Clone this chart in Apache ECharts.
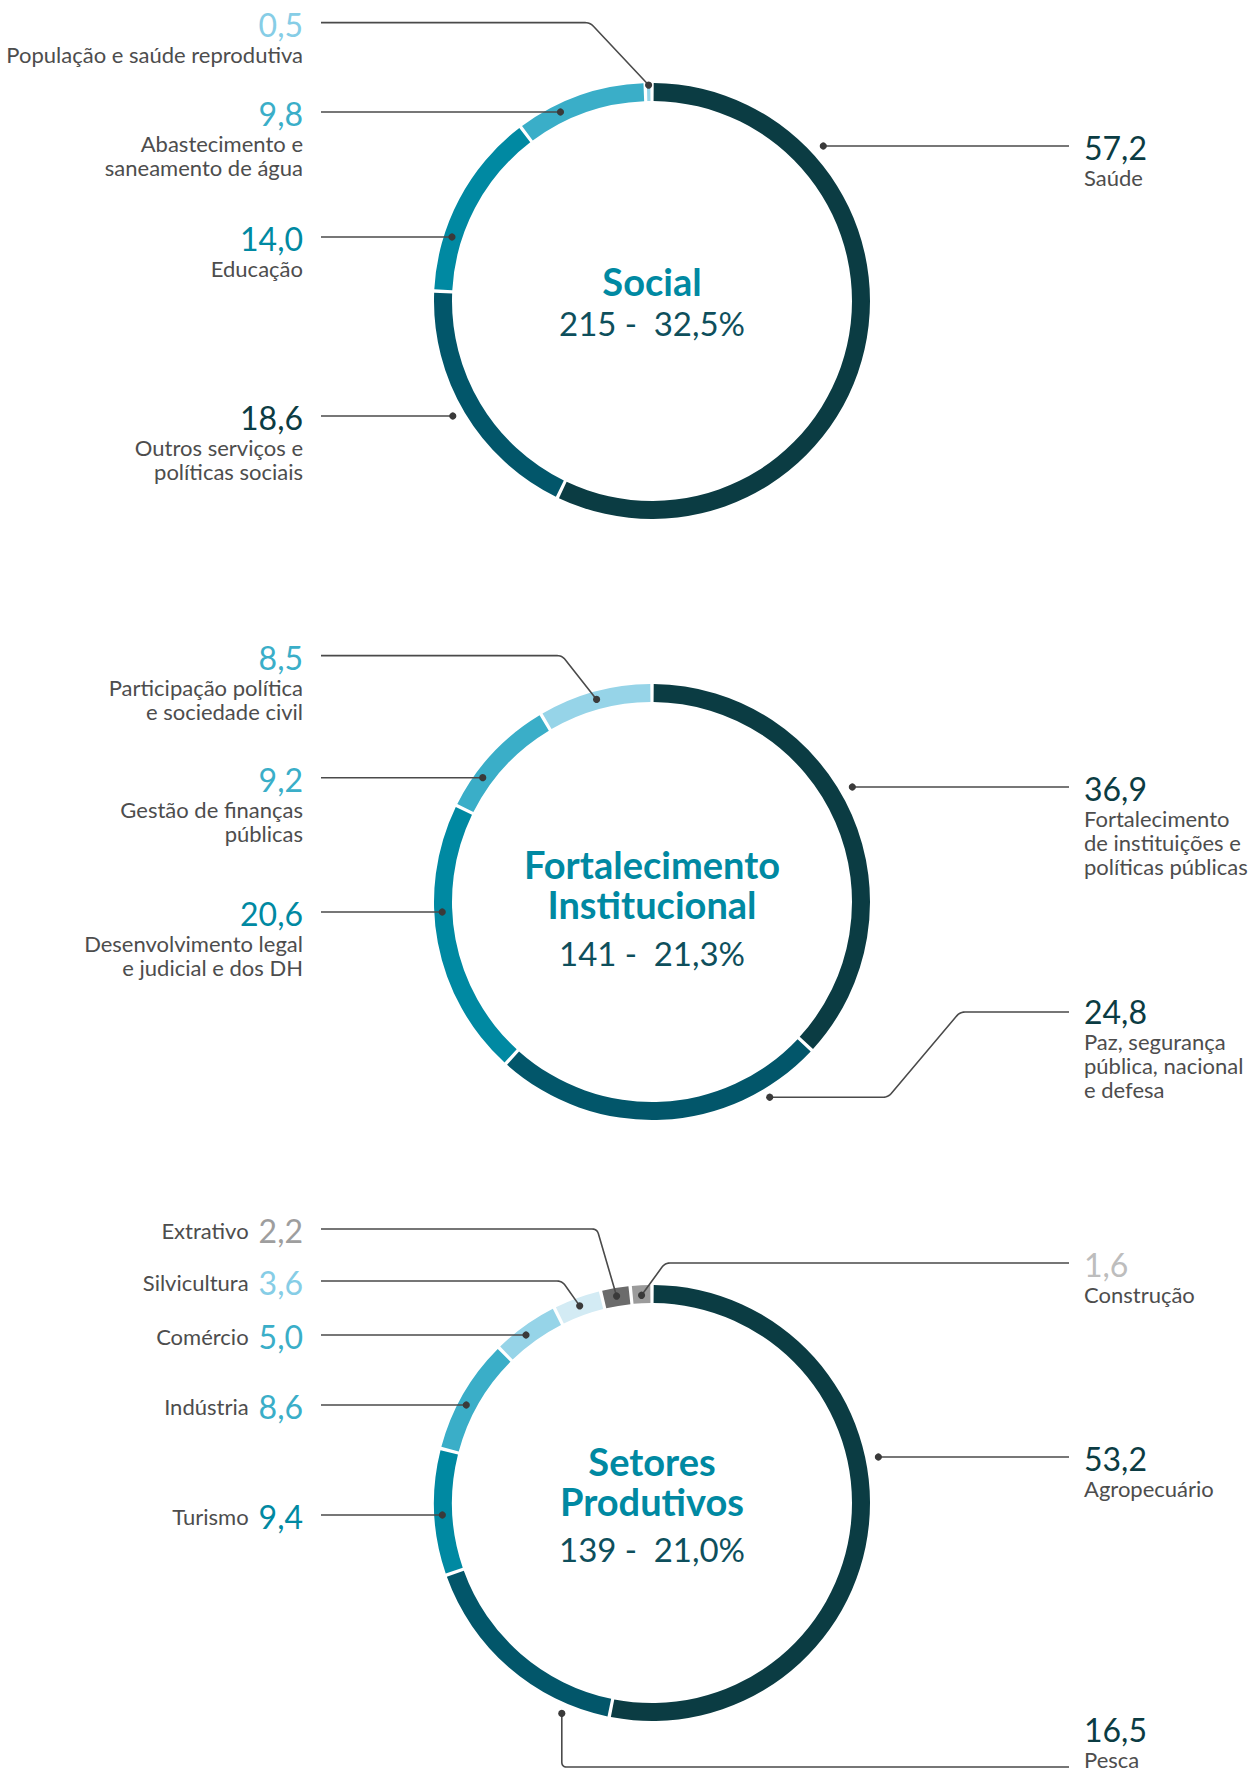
<!DOCTYPE html>
<html>
<head>
<meta charset="utf-8">
<title>Distribuição por setor</title>
<script src="https://cdn.jsdelivr.net/npm/echarts@6/dist/echarts.min.js"></script>
<style>
  html, body { margin: 0; padding: 0; background: #ffffff; }
  #chart { width: 1257px; height: 1773px; }
</style>
</head>
<body>
<div id="chart"></div>
<script>
// ---- data ----
const groupTitles = ['Social', 'Fortalecimento\nInstitucional', 'Setores\nProdutivos'];
const groupTotals = [215, 141, 139];
const groupShares = [32.5, 21.3, 21.0];

const socialNames = ['Saúde', 'Outros serviços e\npolíticas sociais', 'Educação',
  'Abastecimento e\nsaneamento de água', 'População e saúde reprodutiva'];
const socialValues = [57.2, 18.6, 14.0, 9.8, 0.5];

const instNames = ['Fortalecimento\nde instituições e\npolíticas públicas',
  'Paz, segurança\npública, nacional\ne defesa',
  'Desenvolvimento legal\ne judicial e dos DH',
  'Gestão de finanças\npúblicas',
  'Participação política\ne sociedade civil'];
const instValues = [36.9, 24.8, 20.6, 9.2, 8.5];

const prodNames = ['Agropecuário', 'Pesca', 'Turismo', 'Indústria', 'Comércio',
  'Silvicultura', 'Extrativo', 'Construção'];
const prodValues = [53.2, 16.5, 9.4, 8.6, 5.0, 3.6, 2.2, 1.6];

// ---- styles ----
const ringColors = ['#0b3c43', '#02566a', '#0089a2', '#3aaec8', '#96d4e8', '#d3ebf4', '#6b6b6b', '#9b9b9b'];
const socialValueColors = ['#0b3c43', '#0b3c43', '#0089a2', '#3aaec8', '#86cde6'];
const instValueColors = ['#0b3c43', '#0b3c43', '#0089a2', '#3aaec8', '#3aaec8'];
const prodValueColors = ['#0b3c43', '#0b3c43', '#0089a2', '#3aaec8', '#3aaec8', '#86cde6', '#9e9e9e', '#bdbdbd'];
const TITLE_COLOR = '#0089a2';
const SUB_COLOR = '#0e4f5c';
const NAME_COLOR = '#4d4d4d';
const LEADER_COLOR = '#4a4a4a';
const FONT = 'Lato';

// ---- layout ----
const CX = 652;
const CENTER_Y = [301, 902, 1503];
const R_IN = 200, R_OUT = 218;
const LEFT_TEXT_X = 303, LEFT_LINE_X = 321;
const RIGHT_TEXT_X = 1084, RIGHT_LINE_X = 1069;
// title block: y of title middle, line height, y of the subtitle
const TITLE_POS = [
  { y: 281, lh: 40, sub: 323 },
  { y: 884, lh: 40, sub: 953 },
  { y: 1481, lh: 40, sub: 1549 }
];

// callouts: side of the text column, y of the leader line, radius of its dot,
// optional elbow x (and the slice fraction where the dot sits)
const socialCallouts = [
  { side: 'R', y: 146, r: 231 },
  { side: 'L', y: 416, r: 230 },
  { side: 'L', y: 237, r: 210 },
  { side: 'L', y: 112, r: 210 },
  { side: 'L', y: 22.6, r: 216, elbow: 590, at: 0.5 }
];
const instCallouts = [
  { side: 'R', y: 787, r: 231 },
  { side: 'R', y: 1012, r: 228, elbow: 960, elbow2: 888, at: 0.18, textY: 1011 },
  { side: 'L', y: 912, r: 210 },
  { side: 'L', y: 777.7, r: 210 },
  { side: 'L', y: 655.6, r: 210, elbow: 562, at: 0.5 }
];
const prodCallouts = [
  { side: 'R', y: 1457, r: 231 },
  { side: 'R', y: 1767, r: 229, at: 0.2, drop: true, textY: 1729 },
  { side: 'L', y: 1515, r: 210, inline: true },
  { side: 'L', y: 1405, r: 210, inline: true },
  { side: 'L', y: 1335, r: 210, inline: true },
  { side: 'L', y: 1281, r: 210, elbow: 562, at: 0.5, inline: true },
  { side: 'L', y: 1229, r: 210, elbow: 597, at: 0.5, inline: true },
  { side: 'R', y: 1263, r: 208, elbow: 665, at: 0.5 }
];

const groups = [
  { names: socialNames, values: socialValues, valueColors: socialValueColors, callouts: socialCallouts },
  { names: instNames, values: instValues, valueColors: instValueColors, callouts: instCallouts },
  { names: prodNames, values: prodValues, valueColors: prodValueColors, callouts: prodCallouts }
];

function fmt(v) { return v.toFixed(1).replace('.', ','); }

// small rounded corners on the leader polylines
function roundCorners(pts, rr) {
  const out = [pts[0]];
  for (let i = 1; i < pts.length - 1; i++) {
    const a = pts[i - 1], p = pts[i], b = pts[i + 1];
    const la = Math.hypot(p[0] - a[0], p[1] - a[1]);
    const lb = Math.hypot(b[0] - p[0], b[1] - p[1]);
    const ra = Math.min(rr, la / 2), rb = Math.min(rr, lb / 2);
    const p1 = [p[0] + (a[0] - p[0]) * ra / la, p[1] + (a[1] - p[1]) * ra / la];
    const p2 = [p[0] + (b[0] - p[0]) * rb / lb, p[1] + (b[1] - p[1]) * rb / lb];
    for (let k = 0; k <= 6; k++) {
      const t = k / 6, u = 1 - t;
      out.push([u * u * p1[0] + 2 * u * t * p[0] + t * t * p2[0],
                u * u * p1[1] + 2 * u * t * p[1] + t * t * p2[1]]);
    }
  }
  out.push(pts[pts.length - 1]);
  return out;
}

const series = [];
const graphics = [];

groups.forEach((g, gi) => {
  const cy = CENTER_Y[gi];
  const total = g.values.reduce((a, b) => a + b, 0);
  let cum = 0;

  g.values.forEach((v, i) => {
    const c = g.callouts[i];
    const lineX = c.side === 'L' ? LEFT_LINE_X : RIGHT_LINE_X;
    let dot;
    if (c.at != null) {
      const th = 2 * Math.PI * (cum + c.at * v) / total;
      dot = [CX + c.r * Math.sin(th), cy - c.r * Math.cos(th)];
    } else {
      const dx = Math.sqrt(c.r * c.r - (c.y - cy) * (c.y - cy));
      dot = [c.side === 'L' ? CX - dx : CX + dx, c.y];
    }
    cum += v;
    let pts;
    if (c.drop) pts = [dot, [dot[0], c.y], [lineX, c.y]];
    else if (c.elbow2 != null) pts = [[lineX, c.y], [c.elbow, c.y], [c.elbow2, dot[1]], dot];
    else if (c.elbow != null) pts = [[lineX, c.y], [c.elbow, c.y], dot];
    else pts = [[lineX, c.y], dot];

    graphics.push({
      type: 'polyline', z: 100, silent: true,
      shape: { points: roundCorners(pts, 5) },
      style: { stroke: LEADER_COLOR, lineWidth: 1.6, fill: null }
    });
    graphics.push({
      type: 'circle', z: 101, silent: true,
      shape: { cx: dot[0], cy: dot[1], r: 3.6 },
      style: { fill: '#3a3a3a' }
    });
  });

  // centre titles, one text per line
  const tp = TITLE_POS[gi];
  const titleLines = groupTitles[gi].split('\n');
  titleLines.forEach((line, li) => {
    graphics.push({
      type: 'text', z: 100, silent: true, x: CX,
      y: tp.y + (li - (titleLines.length - 1) / 2) * tp.lh,
      style: {
        text: line, fill: TITLE_COLOR,
        fontFamily: FONT, fontWeight: 'bold', fontSize: 38,
        align: 'center', verticalAlign: 'middle'
      }
    });
  });
  graphics.push({
    type: 'text', z: 100, silent: true, x: CX, y: tp.sub,
    style: {
      text: groupTotals[gi] + ' -\u2002' + fmt(groupShares[gi]) + '%', fill: SUB_COLOR,
      fontFamily: FONT, fontWeight: 'normal', fontSize: 33,
      align: 'center', verticalAlign: 'middle'
    }
  });

  series.push({
    type: 'pie',
    center: [CX, cy],
    radius: [R_IN, R_OUT],
    startAngle: 90,
    clockwise: true,
    padAngle: 0.9,
    avoidLabelOverlap: false,
    silent: true,
    animation: false,
    labelLine: { show: false },
    label: {
      show: true,
      position: 'outside',
      fontFamily: FONT,
      formatter: (p) => {
        const c = g.callouts[p.dataIndex];
        const val = '{v|' + fmt(p.value) + '}';
        if (c.inline) return '{m|' + p.name + '}' + val;
        return val + '\n' + p.name.split('\n').map(s => '{n|' + s + '}').join('\n');
      },
      rich: {
        v: { fontFamily: FONT, fontSize: 32, lineHeight: 36 },
        n: { fontFamily: FONT, fontSize: 22, lineHeight: 24, color: NAME_COLOR },
        m: { fontFamily: FONT, fontSize: 22, lineHeight: 36, color: NAME_COLOR,
             verticalAlign: 'middle', padding: [0, 10, 0, 0] }
      }
    },
    labelLayout: (params) => {
      const c = g.callouts[params.dataIndex];
      const ty = c.textY != null ? c.textY : c.y + 1.5;
      return {
        x: c.side === 'L' ? LEFT_TEXT_X : RIGHT_TEXT_X,
        y: ty - 18,
        align: c.side === 'L' ? 'right' : 'left',
        verticalAlign: 'top'
      };
    },
    data: g.values.map((v, i) => ({
      name: g.names[i],
      value: v,
      itemStyle: { color: ringColors[i] },
      label: { color: g.valueColors[i] }
    }))
  });
});

const chart = echarts.init(document.getElementById('chart'), null, { renderer: 'svg' });
chart.setOption({
  backgroundColor: '#ffffff',
  animation: false,
  series: series,
  graphic: { elements: graphics }
});
</script>
</body>
</html>
